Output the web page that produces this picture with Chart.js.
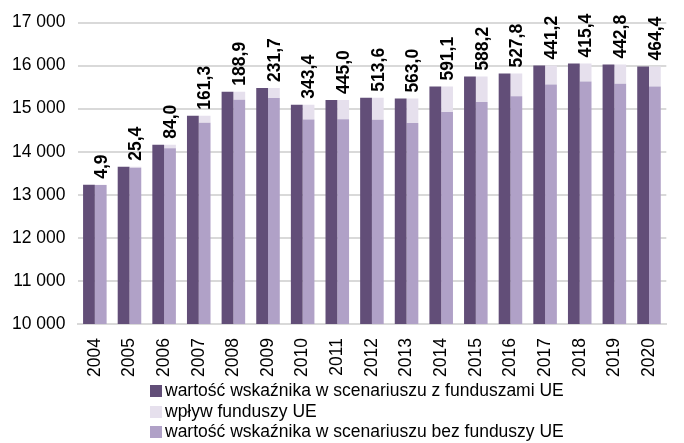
<!DOCTYPE html>
<html>
<head>
<meta charset="utf-8">
<script src="https://cdn.jsdelivr.net/npm/chart.js@4"></script>
<style>
  html, body { margin: 0; padding: 0; background: #fff; }
  #wrap { position: relative; width: 684px; height: 443px; }
  #legend { position: absolute; left: 150px; top: 380px; font-family: "Liberation Sans", Arial, sans-serif; font-size: 17.5px; color: #000; }
  #legend div { height: 20.5px; line-height: 20.5px; white-space: nowrap; }
  #legend span { display: inline-block; width: 12px; height: 12px; margin-right: 3px; vertical-align: -1px; }
</style>
</head>
<body>
<div id="wrap">
  <canvas id="canvas1" width="684" height="443"></canvas>
  <div id="legend"></div>
</div>
<script>
// lata
var years = ["2004","2005","2006","2007","2008","2009","2010","2011","2012","2013","2014","2015","2016","2017","2018","2019","2020"];
// wartość wskaźnika w scenariuszu z funduszami UE
var withFunds = [13233,13651,14163,14837,15395,15481,15093,15202,15256,15233,15512,15744,15814,16000,16047,16023,15977];
// wpływ funduszy UE
var impact = [4.9,25.4,84.0,161.3,188.9,231.7,343.4,445.0,513.6,563.0,591.1,588.2,527.8,441.2,415.4,442.8,464.4];
var yTicks = [10000,11000,12000,13000,14000,15000,16000,17000];

var labels = ["wartość wskaźnika w scenariuszu z funduszami UE", "wpływ funduszy UE", "wartość wskaźnika w scenariuszu bez funduszy UE"];
var colors = ["#624e78", "#e6e0ed", "#b0a1c7"];

// bez funduszy = z funduszami - wpływ
var withoutFunds = [];
for (var i = 0; i < withFunds.length; i++) {
	withoutFunds[i] = Math.round((withFunds[i] - impact[i]) * 10) / 10;
}

var FONT = "'Liberation Sans', Arial, sans-serif";

/**
 * etykiety wpływu funduszy nad słupkami
 */
var impactLabels = {
	id: 'impactLabels',
	afterDatasetsDraw: function(chart){
		var meta = chart.getDatasetMeta(2);
		var ctx = chart.ctx;
		ctx.save();
		ctx.font = "bold 17.5px " + FONT;
		ctx.fillStyle = "#000";
		ctx.textAlign = "left";
		ctx.textBaseline = "middle";
		for (var i = 0; i < meta.data.length; i++) {
			var bar = meta.data[i];
			var txt = impact[i].toFixed(1).replace(".", ",");
			ctx.save();
			ctx.translate(bar.x + 1, bar.y - 6);
			ctx.rotate(-Math.PI / 2);
			ctx.fillText(txt, 0, 0);
			ctx.restore();
		}
		ctx.restore();
	}
};

var config = {
	type: 'bar',
	data: {
		labels: years,
		datasets: [{
			label: labels[0],
			data: withFunds,
			backgroundColor: colors[0],
			stack: 'a'
		}, {
			label: labels[2],
			data: withoutFunds,
			backgroundColor: colors[2],
			stack: 'b'
		}, {
			label: labels[1],
			data: impact,
			backgroundColor: colors[1],
			stack: 'b'
		}]
	},
	options: {
		responsive: false,
		animation: false,
		layout: { padding: { left: 0, right: 0, top: 11, bottom: 52 } },
		datasets: { bar: { categoryPercentage: 0.68, barPercentage: 1.0 } },
		plugins: {
			legend: { display: false },
			tooltip: { enabled: false }
		},
		scales: {
			x: {
				stacked: true,
				grid: { display: false, drawTicks: false },
				border: { color: "#d9d9d9", width: 2 },
				ticks: {
					color: "#000",
					font: { family: FONT, size: 17.5 },
					maxRotation: 90,
					minRotation: 90,
					padding: 14
				}
			},
			y: {
				stacked: true,
				min: 10000,
				max: 17000,
				afterBuildTicks: function(axis){
					axis.ticks = yTicks.map(function(v){ return { value: v }; });
				},
				grid: { color: "#d9d9d9", lineWidth: 2, drawTicks: false },
				border: { display: false },
				ticks: {
					color: "#000",
					font: { family: FONT, size: 17.5 },
					padding: 12,
					callback: function(v){
						return String(v).replace(/\B(?=(\d{3})+(?!\d))/g, " ");
					}
				}
			}
		}
	},
	plugins: [impactLabels]
};

var ctx1 = document.getElementById("canvas1").getContext("2d");
window.myChart = new Chart(ctx1, config);

// legenda
var legend = document.getElementById("legend");
var html = "";
for (var k = 0; k < labels.length; k++) {
	html += "<div><span style='background:" + colors[k] + "'></span>" + labels[k] + "</div>";
}
legend.innerHTML = html;
</script>
</body>
</html>
